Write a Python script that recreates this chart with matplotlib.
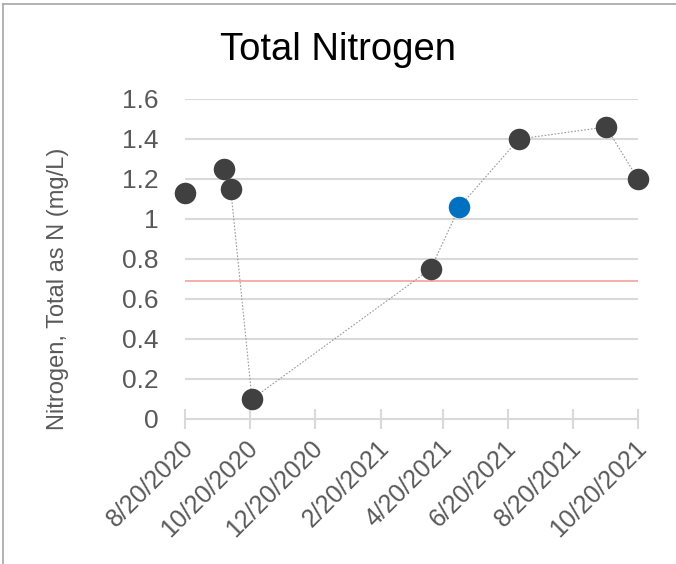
import datetime as dt
import matplotlib
matplotlib.use("Agg")
import matplotlib.pyplot as plt
import matplotlib.transforms as mtransforms
from matplotlib.lines import Line2D

plt.rcParams["font.family"] = ["Liberation Sans", "DejaVu Sans"]

# Sample dates and total nitrogen results (mg/L)
dates = ["2020-08-20", "2020-09-26", "2020-10-02", "2020-10-22", "2021-04-08",
         "2021-05-05", "2021-06-30", "2021-09-20", "2021-10-20"]
nitrogen = [1.13, 1.25, 1.15, 0.10, 0.75, 1.06, 1.40, 1.46, 1.20]
highlight = [False, False, False, False, False, True, False, False, False]
# samples joined by the dotted trend line start at this index
line_start = 2
criterion = 0.69

tick_dates = ["2020-08-20", "2020-10-20", "2020-12-20", "2021-02-20", "2021-04-20",
              "2021-06-20", "2021-08-20", "2021-10-20"]
tick_labels = ["8/20/2020", "10/20/2020", "12/20/2020", "2/20/2021", "4/20/2021",
               "6/20/2021", "8/20/2021", "10/20/2021"]
y_ticks = [0, 0.2, 0.4, 0.6, 0.8, 1.0, 1.2, 1.4, 1.6]
y_labels = ["0", "0.2", "0.4", "0.6", "0.8", "1", "1.2", "1.4", "1.6"]

to_dt = lambda s: dt.datetime.strptime(s, "%Y-%m-%d")
x = [to_dt(d) for d in dates]
xt = [to_dt(d) for d in tick_dates]

fig = plt.figure(figsize=(6.76, 5.64), dpi=100)
ax = fig.add_axes([185 / 676, 1 - 419 / 564, (638 - 185) / 676, (419 - 99) / 564])

grid_c = "#D9D9D9"
text_c = "#595959"

for v in y_ticks[1:]:
    ax.axhline(v, color=grid_c, lw=1.5, zorder=1)
ax.axhline(criterion, color="#F4A09C", lw=1.2, zorder=2)

ax.plot(x[line_start:], nitrogen[line_start:], ls=(0, (1.5, 1.5)), color="#9A9A9A",
        lw=0.8, zorder=3, clip_on=False)
for xi, yi, h in zip(x, nitrogen, highlight):
    ax.plot(xi, yi, "o", ms=15.5, color="#0070C0" if h else "#404040",
            mec="none", zorder=4, clip_on=False)

ax.set_xlim(xt[0], xt[-1])
ax.set_ylim(0, 1.6)
ax.set_xticks(xt)
ax.set_xticklabels(tick_labels, rotation=45, ha="right", rotation_mode="anchor",
                   fontsize=18, color=text_c)
ax.set_yticks(y_ticks)
ax.set_yticklabels(y_labels, fontsize=19, color=text_c)
ax.tick_params(axis="y", length=0, pad=19)
ax.tick_params(axis="x", direction="inout", length=14, width=1.5, color=grid_c, pad=5)

# nudge the slanted date labels slightly left
shift = mtransforms.ScaledTranslation(-4 / 100, 0, fig.dpi_scale_trans)
for lbl in ax.get_xticklabels():
    lbl.set_transform(lbl.get_transform() + shift)

for s in ["top", "right", "left"]:
    ax.spines[s].set_visible(False)
ax.spines["bottom"].set_color(grid_c)
ax.spines["bottom"].set_linewidth(1.5)

fig.text(58 / 676, 1 - 289 / 564, "Nitrogen, Total as N (mg/L)", fontsize=17,
         color=text_c, rotation=90, ha="center", va="center")
fig.text(338 / 676, 1 - 50 / 564, "Total Nitrogen", fontsize=27.5, color="black",
         ha="center", va="center")

# Frame edges on the left and top
fig.add_artist(Line2D([2.5 / 676, 2.5 / 676], [0, 1 - 4.3 / 564], transform=fig.transFigure,
                      color="#A6A6A6", lw=1.2))
fig.add_artist(Line2D([2.5 / 676, 1], [1 - 4.3 / 564, 1 - 4.3 / 564], transform=fig.transFigure,
                      color="#A6A6A6", lw=1.2))

fig.savefig("out.png", dpi=100)
